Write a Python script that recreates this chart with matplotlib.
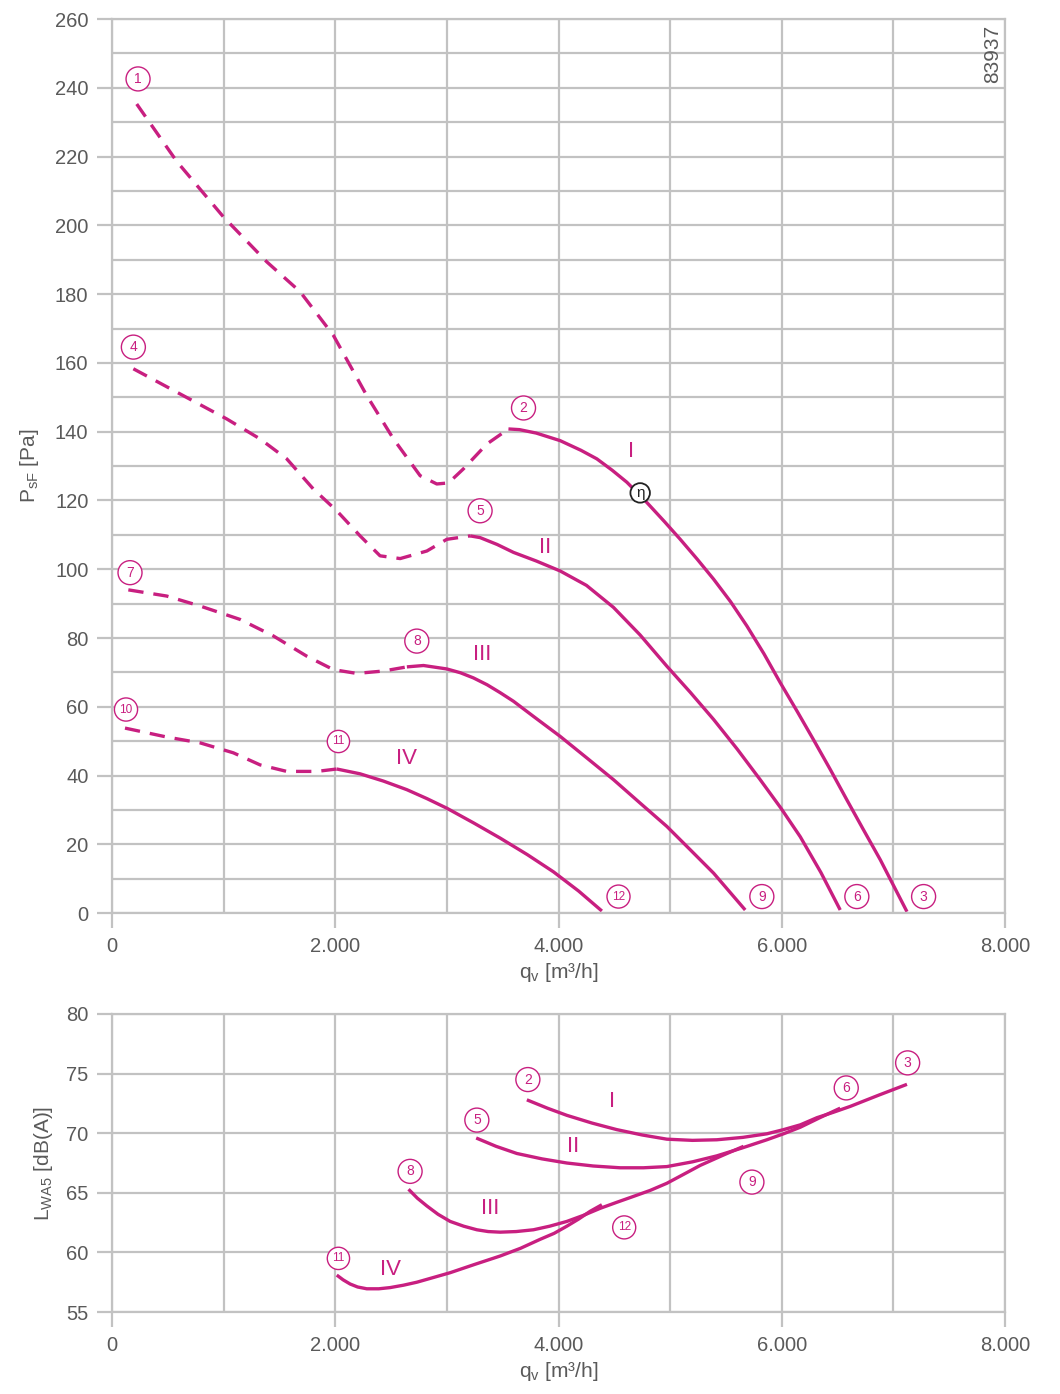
import numpy as np
import matplotlib
matplotlib.use("Agg")
import matplotlib.pyplot as plt
from matplotlib.ticker import MultipleLocator

plt.rcParams['font.family'] = ['Liberation Sans', 'DejaVu Sans']

MAG = '#c81f80'
GRID = '#c2c2c2'
TXT = '#5a5a5a'

# --- pressure curves (top): qv [m3/h], psF [Pa] ---
# dashed = unstable region, solid = operating region
dash_I_q = [221, 580, 997, 1386, 1685, 1983, 2282, 2521, 2760, 2909, 3014, 3148, 3357, 3551]
dash_I_p = [235.3, 218.6, 202.5, 189.4, 180.7, 168.0, 150.5, 137.9, 127.2, 124.8, 125.1, 129.2, 136.4, 140.8]
sol_I_q = [3551, 3650, 3800, 4014, 4200, 4343, 4480, 4612, 4791, 4950, 5090, 5240, 5389, 5540,
           5687, 5840, 5986, 6135, 6284, 6435, 6583, 6730, 6882, 7121]
sol_I_p = [140.8, 140.6, 139.6, 137.4, 134.6, 132.1, 128.8, 125.3, 119.4, 113.8, 108.7, 103.0, 97.1, 90.6,
           83.5, 75.4, 67.0, 58.8, 50.4, 41.7, 32.9, 24.3, 15.5, 0.4]

dash_II_q = [191, 580, 1028, 1326, 1565, 1804, 2013, 2222, 2401, 2581, 2820, 2999, 3208]
dash_II_p = [158.3, 151.5, 143.7, 137.9, 132.1, 123.3, 117.0, 109.7, 103.9, 103.1, 105.3, 108.7, 109.7]
sol_II_q = [3208, 3297, 3450, 3596, 3800, 4014, 4250, 4492, 4730, 4970, 5180, 5389, 5600, 5806,
            5990, 6165, 6350, 6523]
sol_II_p = [109.7, 109.2, 107.2, 104.9, 102.4, 99.5, 95.3, 88.9, 80.9, 71.8, 64.2, 56.3, 47.7, 38.8,
            30.6, 22.2, 11.8, 0.9]

dash_III_q = [146, 490, 789, 1147, 1445, 1745, 1983, 2192, 2431, 2641]
dash_III_p = [94.0, 92.2, 89.3, 85.4, 80.6, 74.7, 70.8, 69.7, 70.4, 71.6]
sol_III_q = [2641, 2790, 2999, 3120, 3237, 3360, 3477, 3596, 3775, 4014, 4250, 4492, 4730, 4970,
             5180, 5389, 5672]
sol_III_p = [71.6, 72.0, 71.0, 69.9, 68.4, 66.4, 64.1, 61.6, 57.2, 51.4, 45.2, 38.8, 32.0, 25.2,
             18.4, 11.6, 0.9]

dash_IV_q = [116, 490, 789, 1087, 1326, 1565, 1834, 2013]
dash_IV_p = [53.8, 51.2, 49.5, 46.6, 43.1, 41.2, 41.2, 41.9]
sol_IV_q = [2013, 2222, 2430, 2640, 2820, 2999, 3240, 3477, 3720, 3954, 4180, 4388]
sol_IV_p = [41.9, 40.5, 38.4, 35.9, 33.3, 30.5, 26.2, 21.8, 17.0, 12.0, 6.4, 0.6]

# --- sound power curves (bottom): qv [m3/h], LWA5 [dB(A)] ---
snd_I_q = [3716, 3900, 4074, 4300, 4522, 4750, 4970, 5200, 5418, 5650, 5866, 6015, 6165, 6314,
           6460, 6613, 6870, 7121]
snd_I_l = [72.8, 72.1, 71.5, 70.85, 70.3, 69.85, 69.5, 69.4, 69.45, 69.65, 69.95, 70.3, 70.7, 71.3,
           71.75, 72.25, 73.2, 74.1]
snd_II_q = [3262, 3440, 3626, 3850, 4074, 4310, 4552, 4760, 4970, 5200, 5418, 5640, 5866, 6015,
            6165, 6340, 6523]
snd_II_l = [69.6, 68.9, 68.3, 67.85, 67.5, 67.25, 67.1, 67.1, 67.2, 67.6, 68.1, 68.75, 69.45, 69.95,
            70.5, 71.3, 72.1]
snd_III_q = [2656, 2735, 2820, 2920, 3029, 3150, 3268, 3370, 3477, 3620, 3775, 3920, 4074, 4220,
             4373, 4520, 4671, 4820, 4970, 5120, 5269, 5460, 5657]
snd_III_l = [65.3, 64.55, 63.9, 63.2, 62.6, 62.2, 61.9, 61.75, 61.7, 61.75, 61.9, 62.2, 62.6, 63.1,
             63.7, 64.2, 64.7, 65.2, 65.8, 66.55, 67.3, 68.1, 68.9]
snd_IV_q = [2013, 2070, 2133, 2200, 2282, 2390, 2491, 2610, 2730, 2880, 3029, 3250, 3477, 3660,
            3835, 3960, 4074, 4180, 4283, 4388]
snd_IV_l = [58.1, 57.7, 57.35, 57.1, 56.95, 56.95, 57.05, 57.25, 57.5, 57.9, 58.3, 59.0, 59.7, 60.35,
            61.1, 61.6, 62.2, 62.8, 63.45, 64.0]

# point labels (number, q, value)
top_pts = [(1, 233, 242.6), (2, 3686, 146.9), (3, 7270, 4.8), (4, 191, 164.6),
           (5, 3297, 117.0), (6, 6672, 4.8), (7, 161, 99.0), (8, 2730, 79.1),
           (9, 5821, 4.8), (10, 125, 59.2), (11, 2028, 49.9), (12, 4537, 4.8)]
top_roman = [('I', 4648, 134.1), ('II', 3880, 106.3), ('III', 3313, 75.2), ('IV', 2640, 45.1)]
bot_pts = [(2, 3725, 74.5), (3, 7127, 75.9), (5, 3268, 71.1), (6, 6577, 73.8),
           (8, 2670, 66.8), (9, 5732, 65.9), (11, 2028, 59.5), (12, 4588, 62.1)]
bot_roman = [('I', 4477, 72.7), ('II', 4133, 68.9), ('III', 3387, 63.7), ('IV', 2491, 58.6)]

xticks = [0, 2000, 4000, 6000, 8000]
xticklabels = ['0', '2.000', '4.000', '6.000', '8.000']
top_yticks = list(range(0, 261, 20))
bot_yticks = [55, 60, 65, 70, 75, 80]


def style_axes(ax):
    for s in ax.spines.values():
        s.set_color(GRID)
        s.set_linewidth(1.6)
    ax.grid(True, which='both', color=GRID, linewidth=1.6)
    ax.set_axisbelow(True)
    ax.tick_params(which='major', direction='out', length=11, width=1.6,
                   color=GRID, labelcolor=TXT, labelsize=14.5, pad=6)
    ax.tick_params(which='minor', length=0)
    ax.set_xticks(xticks)
    ax.set_xticklabels(xticklabels)
    ax.xaxis.set_minor_locator(MultipleLocator(1000))
    ax.set_xlim(0, 8000)
    ax.set_xlabel(r'$\mathregular{q_v}$ [m³/h]', color=TXT, fontsize=15, labelpad=4)


def circled(ax, n, x, y):
    ax.text(x, y, str(n), ha='center', va='center', color=MAG,
            fontsize=10 if n < 10 else 8.5, zorder=5,
            bbox=dict(boxstyle='circle,pad=0.36' if n < 10 else 'circle,pad=0.42',
                      fc='white', ec=MAG, lw=1.0))


fig = plt.figure(figsize=(10.6, 13.94), dpi=100)
ax1 = fig.add_axes([0.1057, 0.345, 0.8425, 0.6413])
ax2 = fig.add_axes([0.1057, 0.0588, 0.8425, 0.2138])

# top panel
style_axes(ax1)
ax1.set_ylim(0, 260)
ax1.set_yticks(top_yticks)
ax1.yaxis.set_minor_locator(MultipleLocator(10))
ax1.set_ylabel(r'$\mathregular{P_{sF}}$ [Pa]', color=TXT, fontsize=15, labelpad=10)

lw = 2.4
for dq, dp, sq, sp in [(dash_I_q, dash_I_p, sol_I_q, sol_I_p),
                       (dash_II_q, dash_II_p, sol_II_q, sol_II_p),
                       (dash_III_q, dash_III_p, sol_III_q, sol_III_p),
                       (dash_IV_q, dash_IV_p, sol_IV_q, sol_IV_p)]:
    ax1.plot(dq, dp, color=MAG, lw=lw, dashes=(4.6, 3.0), solid_capstyle='butt')
    ax1.plot(sq, sp, color=MAG, lw=lw, solid_capstyle='butt')

for n, x, y in top_pts:
    circled(ax1, n, x, y)
for t, x, y in top_roman:
    ax1.text(x, y, t, ha='center', va='center', color=MAG, fontsize=16)
ax1.text(4731, 122.2, 'η', ha='center', va='center', color='#222222', fontsize=11, zorder=6,
         bbox=dict(boxstyle='circle,pad=0.18', fc='white', ec='#222222', lw=1.3))
ax1.text(7885, 250, '83937', rotation=90, ha='center', va='center', color=TXT, fontsize=15)

# bottom panel
style_axes(ax2)
ax2.set_ylim(55, 80)
ax2.set_yticks(bot_yticks)
ax2.set_ylabel(r'$\mathregular{L_{WA5}}$ [dB(A)]', color=TXT, fontsize=15, labelpad=8)

for q, l in [(snd_I_q, snd_I_l), (snd_II_q, snd_II_l),
             (snd_III_q, snd_III_l), (snd_IV_q, snd_IV_l)]:
    ax2.plot(q, l, color=MAG, lw=lw, solid_capstyle='butt')

for n, x, y in bot_pts:
    circled(ax2, n, x, y)
for t, x, y in bot_roman:
    ax2.text(x, y, t, ha='center', va='center', color=MAG, fontsize=16)

fig.savefig('out.png', dpi=100, facecolor='white')
